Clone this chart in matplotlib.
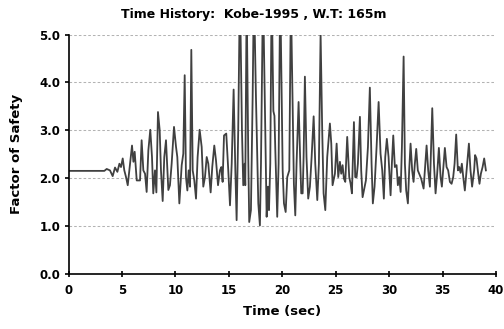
import numpy as np
import matplotlib
matplotlib.use('Agg')
import matplotlib.pyplot as plt

# digitised time history (sec, factor of safety); peaks above 5.0 are clipped in the original
time_sec = [0.0, 3.35, 3.57, 3.88, 4.13, 4.35, 4.57, 4.76, 4.91, 5.07, 5.22, 5.38, 5.54, 5.69,
            5.94, 6.07, 6.19, 6.38, 6.69, 6.84, 7.0, 7.16, 7.31, 7.47, 7.65, 7.81, 7.93, 8.09,
            8.22, 8.37, 8.53, 8.65, 8.81, 8.96, 9.12, 9.34, 9.49, 9.65, 9.87, 10.06, 10.18,
            10.37, 10.59, 10.74, 10.87, 10.99, 11.12, 11.24, 11.37, 11.49, 11.62, 11.77, 11.93,
            12.08, 12.27, 12.46, 12.61, 12.77, 12.93, 13.08, 13.3, 13.45, 13.64, 13.8, 13.99,
            14.17, 14.3, 14.42, 14.55, 14.76, 14.95, 15.11, 15.27, 15.45, 15.61, 15.73, 15.88,
            16.04, 16.23, 16.35, 16.48, 16.54, 16.67, 16.82, 16.91, 17.07, 17.23, 17.35, 17.54,
            17.76, 17.91, 18.01, 18.2, 18.41, 18.54, 18.66, 18.76, 18.88, 19.01, 19.17, 19.27,
            19.35, 19.53, 19.66, 19.81, 20.04, 20.16, 20.32, 20.47, 20.66, 20.81, 21.09, 21.22,
            21.34, 21.53, 21.69, 21.78, 21.91, 22.0, 22.12, 22.27, 22.43, 22.59, 22.75, 22.94,
            23.09, 23.28, 23.43, 23.59, 23.74, 23.87, 24.03, 24.21, 24.46, 24.59, 24.71, 24.93,
            25.09, 25.24, 25.4, 25.52, 25.65, 25.77, 25.9, 26.08, 26.27, 26.4, 26.52, 26.71,
            26.83, 26.96, 27.08, 27.27, 27.39, 27.52, 27.64, 27.83, 28.02, 28.2, 28.36, 28.48,
            28.64, 28.83, 29.02, 29.2, 29.36, 29.51, 29.64, 29.79, 29.95, 30.14, 30.26, 30.39,
            30.54, 30.7, 30.82, 30.95, 31.08, 31.2, 31.36, 31.48, 31.6, 31.76, 31.88, 32.01,
            32.16, 32.29, 32.41, 32.54, 32.69, 32.82, 33.0, 33.23, 33.35, 33.51, 33.66, 33.82,
            34.04, 34.2, 34.35, 34.5, 34.66, 34.82, 34.94, 35.06, 35.22, 35.38, 35.53, 35.69,
            35.85, 36.0, 36.13, 36.28, 36.44, 36.56, 36.69, 36.81, 36.94, 37.09, 37.25, 37.47,
            37.62, 37.77, 37.96, 38.05, 38.18, 38.34, 38.46, 38.59, 38.75, 38.9, 39.06]
fos = [2.15, 2.15, 2.19, 2.16, 2.04, 2.22, 2.13, 2.30, 2.23, 2.41, 2.16, 2.02, 1.85, 2.16,
       2.68, 2.34, 2.55, 1.95, 1.95, 2.79, 2.16, 2.09, 1.71, 2.58, 3.01, 2.44, 1.68, 2.16,
       1.70, 3.38, 3.00, 2.16, 1.52, 2.44, 2.79, 1.75, 1.85, 2.30, 3.07, 2.65, 2.44,
       1.47, 2.27, 2.51, 4.15, 2.02, 1.74, 2.16, 1.82, 4.68, 2.16, 1.95, 1.57,
       2.44, 3.01, 2.65, 1.82, 2.02, 2.44, 2.30, 1.70, 2.23, 2.68, 2.37, 1.85,
       2.16, 2.23, 1.92, 2.89, 2.93, 2.16, 1.43, 2.30, 3.85, 2.16, 1.12, 3.00,
       6.0, 3.00, 1.85, 2.30, 1.85, 5.8, 2.44, 1.08, 1.33, 3.69, 6.0, 3.69,
       1.47, 1.01, 2.30, 6.0, 3.00, 1.19, 1.82, 1.33, 2.30, 6.0, 3.40, 3.30,
       2.6, 1.19, 2.30, 6.0, 2.16, 1.47, 1.29, 2.02, 2.16, 5.8, 1.88, 1.22,
       2.30, 3.59, 2.30, 1.68, 1.68, 2.44, 4.12, 2.44, 1.57, 1.82, 2.44, 3.29,
       2.30, 1.54, 2.30, 5.02, 3.00, 1.68, 1.33, 2.44, 3.14, 2.72, 1.85, 2.09,
       2.72, 2.02, 2.34, 2.09, 2.27, 1.99, 1.92, 2.86, 2.02, 1.88, 1.68, 3.17,
       2.02, 2.02, 2.30, 3.28, 2.16, 1.60, 1.74, 1.95, 2.65, 3.89, 2.30, 1.47,
       1.82, 2.65, 3.59, 2.51, 2.16, 1.57, 2.44, 2.82, 2.44, 1.64, 2.30, 2.89,
       2.23, 2.27, 1.85, 2.02, 1.71, 2.65, 4.54, 2.30, 1.74, 1.47, 2.16, 2.72,
       2.16, 1.92, 2.30, 2.61, 2.16, 2.09, 1.99, 1.78, 2.16, 2.68, 2.16, 1.82,
       3.46, 2.30, 1.68, 2.09, 2.63, 2.02, 1.82, 2.16, 2.63, 2.23, 2.16, 1.92,
       1.88, 2.02, 2.30, 2.91, 2.16, 2.23, 2.11, 2.30, 2.02, 1.74, 2.16, 2.72,
       2.16, 1.82, 2.16, 2.48, 2.41, 2.09, 1.88, 2.09, 2.23, 2.41, 2.16]

xticks = [0, 5, 10, 15, 20, 25, 30, 35, 40]
yticks = [0.0, 1.0, 2.0, 3.0, 4.0, 5.0]

fig = plt.figure(figsize=(5.04, 3.29), dpi=100)
ax = fig.add_axes([0.136, 0.168, 0.848, 0.727])

#dashed horizontal gridlines
for y in yticks[1:]:
	ax.axhline(y, color='#b3b3b3', linestyle=(0, (2.5, 2)), linewidth=0.75, zorder=0)

ax.plot(time_sec, fos, color='#404040', linewidth=1.3)

ax.set_xlim(0, 40)
ax.set_ylim(0, 5)
ax.set_xticks(xticks)
ax.set_yticks(yticks)
ax.set_yticklabels(['%.1f' % y for y in yticks])

for s in ['top', 'right']:
	ax.spines[s].set_visible(False)
for s in ['left', 'bottom']:
	ax.spines[s].set_linewidth(1.2)
	ax.spines[s].set_color('black')

ax.tick_params(axis='x', direction='inout', length=5, width=1.2, labelsize=8.5, pad=5)
ax.tick_params(axis='y', direction='out', length=3, width=1.2, labelsize=8.5, pad=3)
for lab in ax.get_xticklabels() + ax.get_yticklabels():
	lab.set_fontweight('bold')

ax.set_xlabel('Time (sec)', fontsize=9.5, fontweight='bold', labelpad=6)
ax.set_ylabel('Factor of Safety', fontsize=9.5, fontweight='bold', labelpad=12)
fig.text(0.503, 0.955, 'Time History:  Kobe-1995 , W.T: 165m', ha='center', va='center',
	fontsize=9, fontweight='bold')

plt.savefig('out.png', dpi=100)
